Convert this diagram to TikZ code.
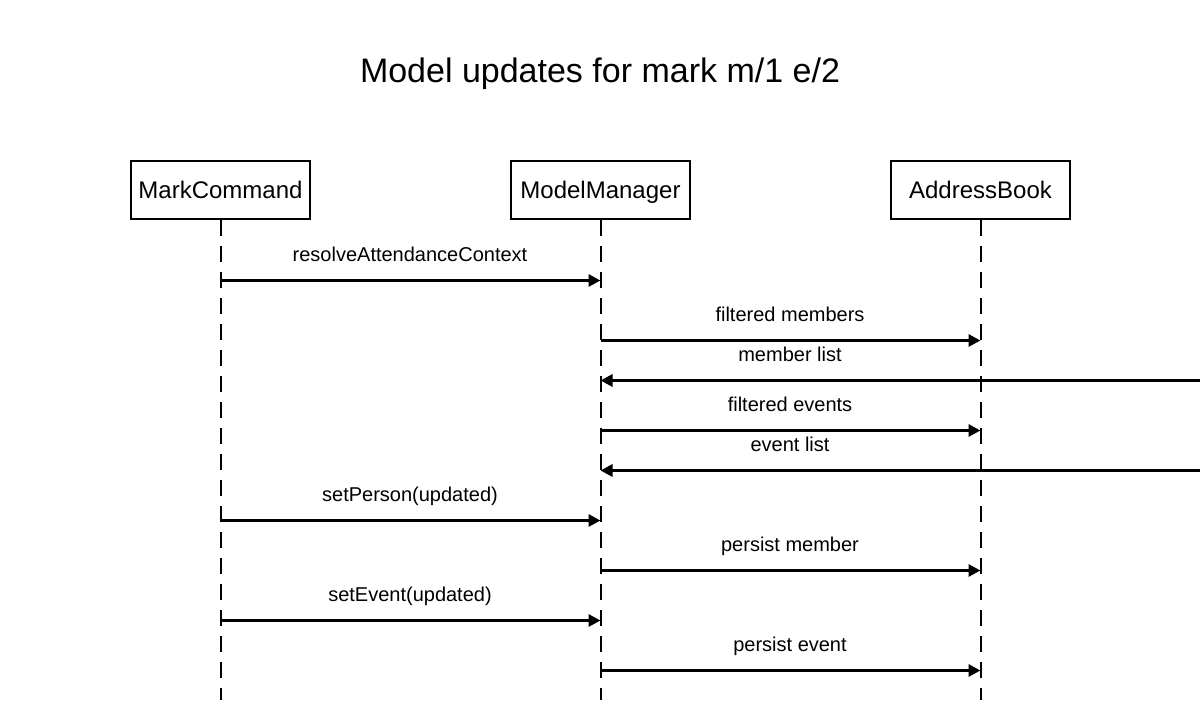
\documentclass[tikz,border=0pt]{standalone}
\usepackage{fontspec}
\setmainfont{Liberation Sans}
\usetikzlibrary{arrows.meta}
\begin{document}
\begin{tikzpicture}[x=1pt,y=-1pt,
  actor/.style={draw,line width=2pt,minimum width=179pt,minimum height=58pt,inner sep=0pt,text height=19pt,text depth=3pt,font=\fontsize{24}{28}\selectfont},
  lifeline/.style={line width=2pt,dash pattern=on 16pt off 10pt},
  msg/.style={line width=3pt,-{Triangle[length=12pt,width=12pt]}},
  lbl/.style={anchor=base,inner sep=0pt,font=\fontsize{20}{24}\selectfont}]
\useasboundingbox (0,0) rectangle (1200,720);
\node[font=\fontsize{34}{40}\selectfont,anchor=base] (title) at (600,82) {Model updates for mark m/1 e/2};
\node[actor] (mc) at (220.5,190) {MarkCommand};
\node[actor] (mm) at (600.5,190) {ModelManager};
\node[actor] (ab) at (980.5,190) {AddressBook};
\coordinate (mcend) at (220.5,700);
\coordinate (mmend) at (600.5,700);
\coordinate (abend) at (980.5,700);
\coordinate (offr) at (1202,0);
\draw[lifeline] (mc.south) -- (mcend);
\draw[lifeline] (mm.south) -- (mmend);
\draw[lifeline] (ab.south) -- (abend);
% messages
\draw[msg] (mc.south |- 0,280.5) -- (mm.south |- 0,280.5);
\node[lbl] (l1) at (410,261) {resolveAttendanceContext};
\draw[msg] (mm.south |- 0,340.5) -- (ab.south |- 0,340.5);
\node[lbl] (l2) at (790,321) {filtered members};
\draw[msg] (offr |- 0,380.5) -- (mm.south |- 0,380.5);
\node[lbl] (l3) at (790,361) {member list};
\draw[msg] (mm.south |- 0,430.5) -- (ab.south |- 0,430.5);
\node[lbl] (l4) at (790,411) {filtered events};
\draw[msg] (offr |- 0,470.5) -- (mm.south |- 0,470.5);
\node[lbl] (l5) at (790,451) {event list};
\draw[msg] (mc.south |- 0,520.5) -- (mm.south |- 0,520.5);
\node[lbl] (l6) at (410,501) {setPerson(updated)};
\draw[msg] (mm.south |- 0,570.5) -- (ab.south |- 0,570.5);
\node[lbl] (l7) at (790,551) {persist member};
\draw[msg] (mc.south |- 0,620.5) -- (mm.south |- 0,620.5);
\node[lbl] (l8) at (410,601) {setEvent(updated)};
\draw[msg] (mm.south |- 0,670.5) -- (ab.south |- 0,670.5);
\node[lbl] (l9) at (790,651) {persist event};
\end{tikzpicture}
\end{document}
